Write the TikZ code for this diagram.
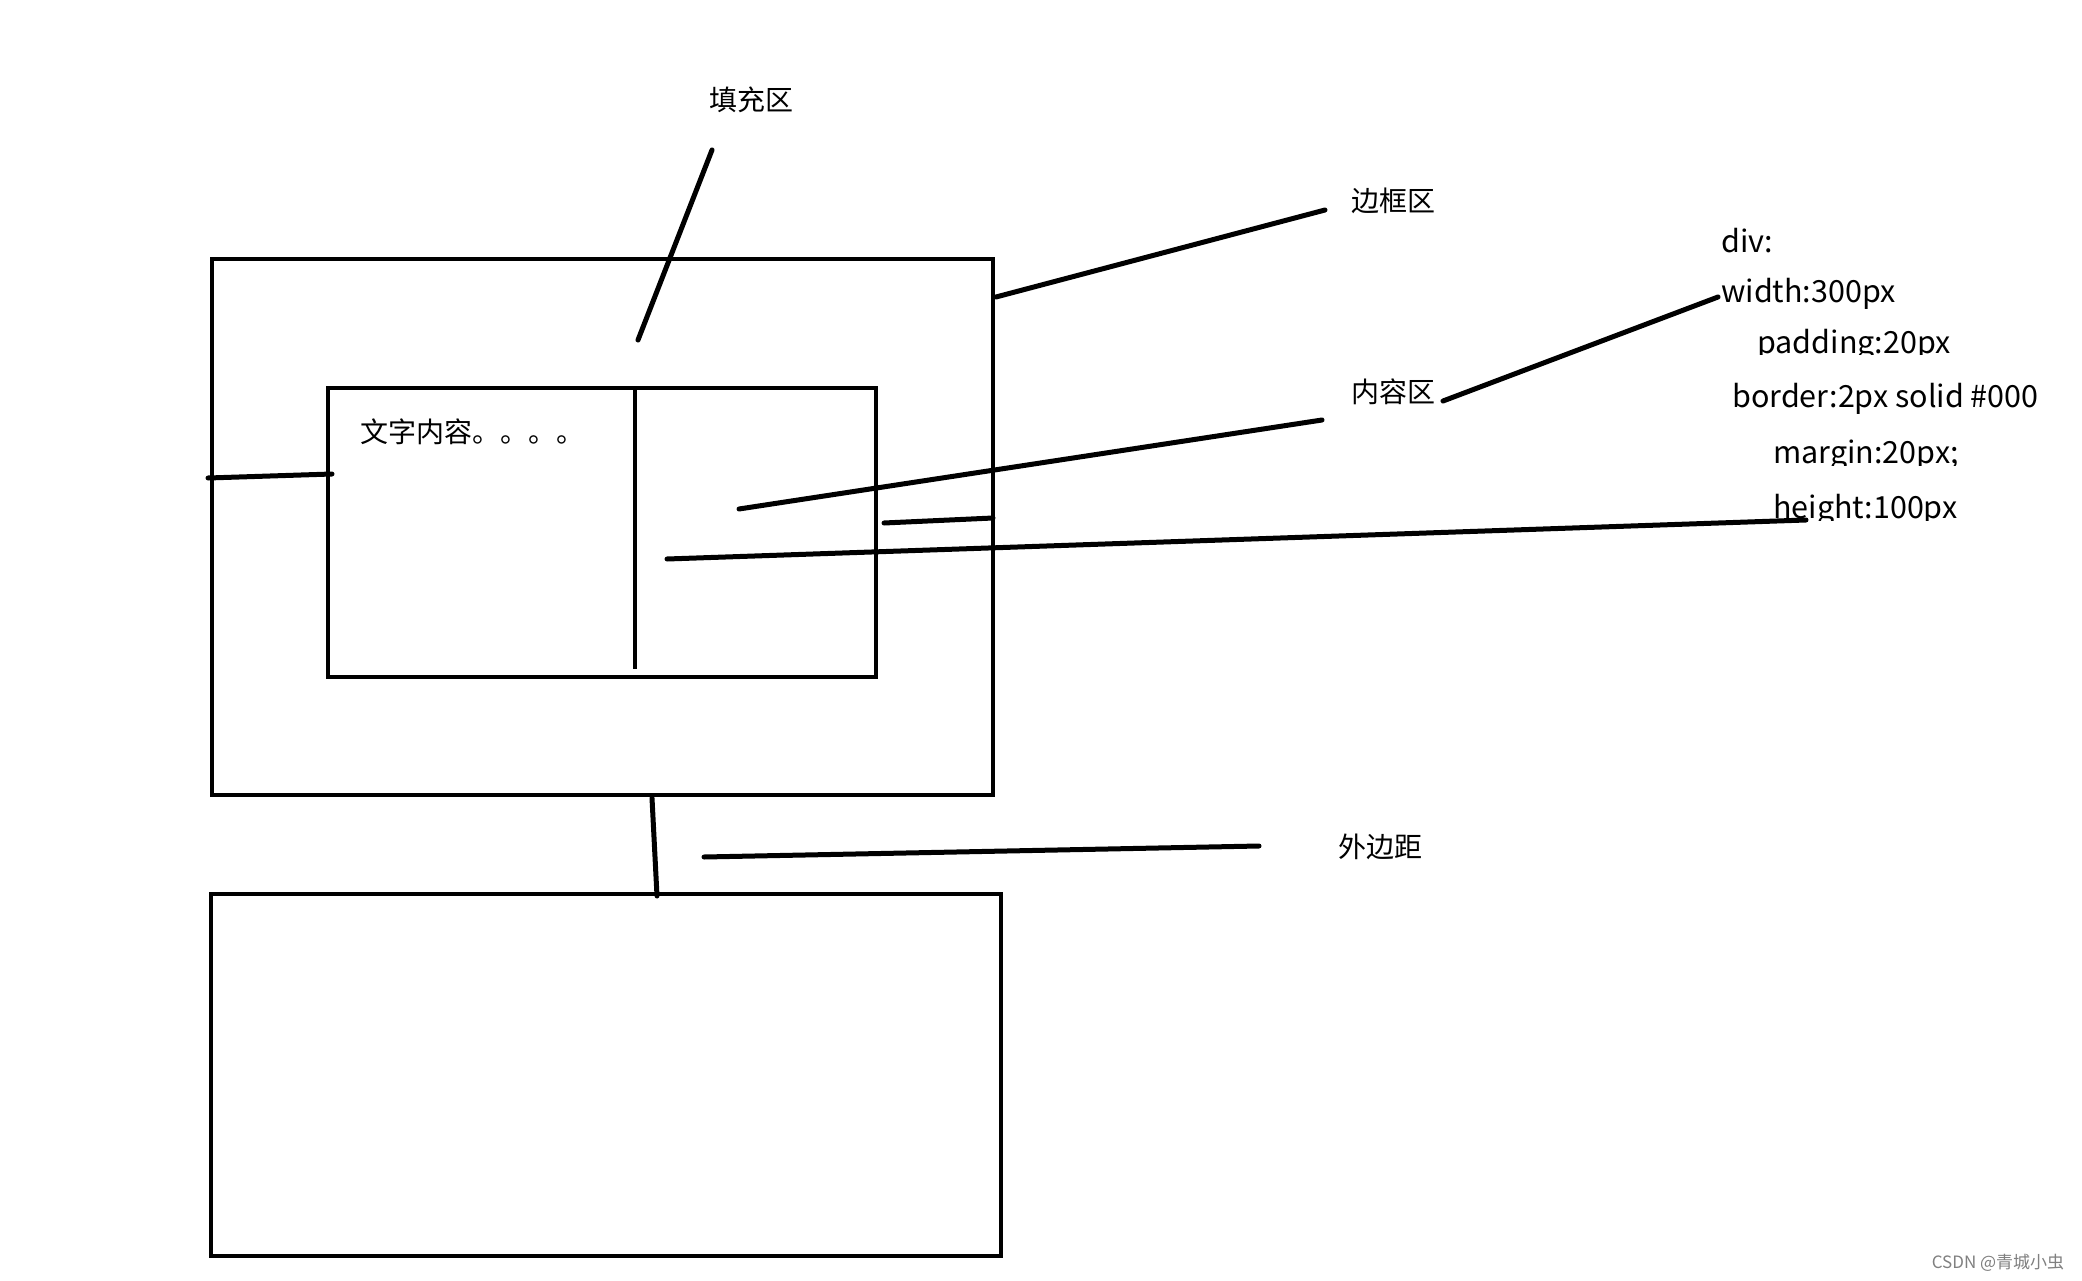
\documentclass[tikz,border=0pt]{standalone}
\usepackage{fontspec}
\setmainfont{Noto Sans CJK SC}
\newfontfamily\cjk{Noto Sans CJK SC}
\begin{document}
\begin{tikzpicture}[x=1pt,y=-1pt,
  box/.style={draw=black,line width=4.5pt},
  ln/.style={draw=black,line width=5pt,line cap=round},
  lbl/.style={font=\fontsize{28}{32}\selectfont\cjk,inner sep=0pt},
  code/.style={font=\fontsize{30.5}{34}\selectfont,inner sep=0pt,anchor=base west}]
\useasboundingbox[fill=white] (0,0) rectangle (2082,1281);
% boxes
\draw[box] (212,259) rectangle (993,795);
\draw[box] (328,388) rectangle (876,677);
\draw[box] (211,894) rectangle (1001,1256);
% labels
\node[lbl] (tianchong) at (751,100) {填充区};
\node[lbl] (biankuang) at (1393,201) {边框区};
\node[lbl] (neirong) at (1393,392) {内容区};
\node[lbl] (waibianju) at (1380,847) {外边距};
\node[lbl,anchor=west] (wenzi) at (360,432) {文字内容。。。。};
% code text
\node[code] (div) at (1721,253) {div:};
\node[code] (width) at (1721,302) {width:300px};
\begin{scope}
\clip (1700,300) rectangle (2082,354);
\node[code] (padding) at (1757,353) {padding:20px};
\end{scope}
\node[code] (border) at (1732,407) {border:2px solid \#000};
\begin{scope}
\clip (1700,420) rectangle (2082,465);
\node[code] (margin) at (1773,463) {margin:20px;};
\end{scope}
\begin{scope}
\clip (1700,470) rectangle (2082,520);
\node[code] (height) at (1773,518) {height:100px};
\end{scope}
% coordinates
\coordinate (a1) at (712,150);
\coordinate (a2) at (638,340);
\coordinate (b1) at (996,297);
\coordinate (b2) at (1325,210);
\coordinate (c1) at (1443,401);
\coordinate (c2) at (1718,297);
\coordinate (d1) at (739,509);
\coordinate (d2) at (1322,420);
\coordinate (e1) at (884,523);
\coordinate (e2) at (993,518);
\coordinate (f1) at (667,559);
\coordinate (f2) at (1806,520);
\coordinate (g1) at (208,478);
\coordinate (g2) at (332,474);
\coordinate (h1) at (652,798);
\coordinate (h2) at (657,896);
\coordinate (i1) at (704,857);
\coordinate (i2) at (1259,846);
\coordinate (v1) at (635,388);
\coordinate (v2) at (635,669);
% lines
\draw[ln] (a1) -- (a2);
\draw[ln] (b1) -- (b2);
\draw[ln] (c1) -- (c2);
\draw[ln] (d1) -- (d2);
\draw[ln] (e1) -- (e2);
\draw[ln] (f1) -- (f2);
\draw[ln] (g1) -- (g2);
\draw[ln] (h1) -- (h2);
\draw[ln] (i1) -- (i2);
\draw[box] (v1) -- (v2);
% watermark
\node[font=\fontsize{17}{19}\selectfont\cjk,text=gray,inner sep=0pt] (wm) at (1998,1263) {CSDN @青城小虫};
\end{tikzpicture}
\end{document}
